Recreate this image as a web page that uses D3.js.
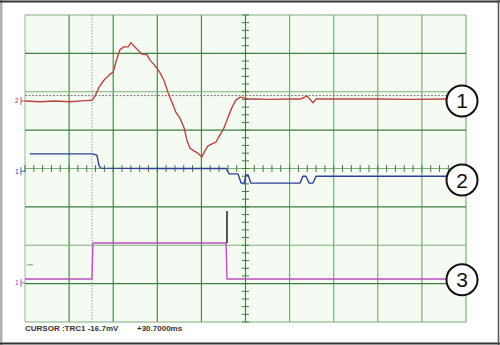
<!DOCTYPE html>
<html>
<head>
<meta charset="utf-8">
<script src="https://cdn.jsdelivr.net/npm/d3@7"></script>
<style>
  body { margin: 0; background: #fff; }
  svg { display: block; }
</style>
</head>
<body>
<svg></svg>
<script>
var WIDTH = 500;
var HEIGHT = 345;

// time in ms (10 ms/div), level in divisions
var ch1Time = [0, 3.4, 6.8, 10.2, 13.6, 15.2, 15.9, 16.8, 17.9, 19.3, 20.0, 20.6, 21.5, 22.4, 23.4, 24.0,
    24.7, 25.6, 26.5, 27.7, 28.3, 29.3, 29.9, 30.6, 31.5, 32.4, 33.3, 34.2, 35.1, 36.1, 36.7, 37.4,
    38.3, 39.2, 40.1, 40.8, 41.5, 42.4, 43.3, 44.2, 45.1, 46.0, 46.9, 47.8, 48.8, 49.7, 50.6, 52.2,
    55.6, 60.1, 62.4, 63.3, 63.9, 64.6, 65.3, 66.0, 68.0, 73.7, 80.5, 87.3, 95.5];
var ch1Level = [1.76, 1.74, 1.76, 1.74, 1.77, 1.78, 1.89, 2.12, 2.30, 2.46, 2.51, 2.77, 3.09, 3.17, 3.17, 3.28,
    3.19, 3.09, 2.98, 2.96, 2.83, 2.70, 2.62, 2.50, 2.30, 1.99, 1.73, 1.47, 1.32, 1.05, 0.74, 0.53,
    0.46, 0.40, 0.30, 0.46, 0.59, 0.64, 0.69, 0.87, 1.05, 1.32, 1.58, 1.78, 1.86, 1.84, 1.81, 1.81,
    1.80, 1.81, 1.81, 1.85, 1.89, 1.81, 1.71, 1.81, 1.81, 1.81, 1.81, 1.80, 1.81];

var ch2Time = [1.1, 15.2, 16.3, 16.8, 17.2, 28.3, 39.7, 45.6, 46.3, 48.3, 49.0, 49.7, 50.1, 50.6, 51.2,
    55.6, 62.4, 63.0, 63.7, 64.4, 65.3, 66.0, 69.2, 95.5];
var ch2Level = [0.38, 0.38, 0.35, 0.07, 0.01, 0, 0, 0, -0.14, -0.14, -0.38, -0.38, -0.17, -0.17, -0.38,
    -0.38, -0.38, -0.20, -0.20, -0.38, -0.38, -0.20, -0.20, -0.20];

var ch3Time = [0, 15.2, 15.4, 45.6, 45.8, 95.5];
var ch3Level = [-2.88, -2.88, -1.94, -1.94, -2.88, -2.88];

var spikeTime = 45.8;
var spikeLevels = [-1.11, -1.94];

var cursorTime = 15.2;
var cursorLevel = 1.90;

var channelTags = [
    {label: "2", level: 1.76, color: "#b03030"},
    {label: "1", level: -0.07, color: "#2a3a9a"},
    {label: "1", level: -2.98, color: "#b03ab0"}
];
var markerLabels = ["1", "2", "3"];
var markerLevels = [1.76, -0.30, -2.90];
var readout = ["CURSOR :TRC1 -16.7mV", "+30.7000ms"];

var svg = d3.select("svg").attr("width", WIDTH).attr("height", HEIGHT);

var x = d3.scaleLinear().domain([0, 100]).range([25, 466]);
var y = d3.scaleLinear().domain([-4, 4]).range([322, 15]);

// frame
svg.append("rect").attr("x", 0).attr("y", 0).attr("width", WIDTH).attr("height", HEIGHT).attr("fill", "#fff");
svg.append("rect").attr("x", 0).attr("y", 0).attr("width", 2.5).attr("height", HEIGHT).attr("fill", "#b0b0b0");
svg.append("line").attr("x1", 0).attr("x2", WIDTH).attr("y1", 1.5).attr("y2", 1.5).attr("stroke", "#333").attr("stroke-width", 2);
svg.append("line").attr("x1", 0).attr("x2", WIDTH).attr("y1", 343.5).attr("y2", 343.5).attr("stroke", "#333").attr("stroke-width", 2);
svg.append("line").attr("x1", 498.5).attr("x2", 498.5).attr("y1", 0).attr("y2", HEIGHT).attr("stroke", "#555").attr("stroke-width", 1.5);

// screen
svg.append("rect").attr("x", x(0)).attr("y", y(4)).attr("width", x(100) - x(0)).attr("height", y(-4) - y(4))
    .attr("fill", "#f5fbf3");

var grid = svg.append("g");
grid.selectAll(".vg").data(d3.range(0, 101, 10)).enter().append("line")
    .attr("x1", function(d) { return x(d); }).attr("x2", function(d) { return x(d); })
    .attr("y1", y(4)).attr("y2", y(-4))
    .attr("stroke", function(d) { return d == 0 ? "#9cbf9c" : (d <= 50 ? "#3d7f3d" : "#6fa86f"); })
    .attr("stroke-width", 1.1);
grid.selectAll(".hg").data(d3.range(-4, 5, 1)).enter().append("line")
    .attr("x1", x(0)).attr("x2", x(100))
    .attr("y1", function(d) { return y(d); }).attr("y2", function(d) { return y(d); })
    .attr("stroke", function(d) { return Math.abs(d) % 2 == 1 ? "#3d7f3d" : "#7cb07c"; })
    .attr("stroke-width", 1.1);

// centre axis minor ticks
grid.selectAll(".ht").data(d3.range(0, 101, 2)).enter().append("line")
    .attr("x1", function(d) { return x(d); }).attr("x2", function(d) { return x(d); })
    .attr("y1", y(0) - 3.5).attr("y2", y(0) + 3.5)
    .attr("stroke", "#3d7f3d").attr("stroke-width", 1);
grid.selectAll(".vt").data(d3.range(-4, 4.01, 0.2)).enter().append("line")
    .attr("x1", x(50) - 3.5).attr("x2", x(50) + 3.5)
    .attr("y1", function(d) { return y(d); }).attr("y2", function(d) { return y(d); })
    .attr("stroke", "#3d7f3d").attr("stroke-width", 1);

// cursors
svg.append("line").attr("x1", x(cursorTime)).attr("x2", x(cursorTime)).attr("y1", y(4)).attr("y2", y(-4))
    .attr("stroke", "#9a9a9a").attr("stroke-width", 1).attr("stroke-dasharray", "1.5,1.5");
svg.append("line").attr("x1", x(0)).attr("x2", x(100)).attr("y1", y(cursorLevel)).attr("y2", y(cursorLevel))
    .attr("stroke", "#777").attr("stroke-width", 1).attr("stroke-dasharray", "2,1.5");

// traces
var line = d3.line()
    .x(function(d) { return x(d[0]); })
    .y(function(d) { return y(d[1]); });

function trace(times, levels, color) {
    svg.append("path")
        .datum(d3.zip(times, levels))
        .attr("d", line)
        .attr("fill", "none")
        .attr("stroke", color)
        .attr("stroke-width", 1.4)
        .attr("stroke-linejoin", "round");
}
trace(ch1Time, ch1Level, "#b9453f");
trace(ch2Time, ch2Level, "#2e3f9c");
trace(ch3Time, ch3Level, "#bb4fbf");

svg.append("line").attr("x1", x(spikeTime)).attr("x2", x(spikeTime))
    .attr("y1", y(spikeLevels[0])).attr("y2", y(spikeLevels[1]))
    .attr("stroke", "#222").attr("stroke-width", 1.5);
svg.append("line").attr("x1", x(0.5)).attr("x2", x(1.8)).attr("y1", y(-2.51)).attr("y2", y(-2.51))
    .attr("stroke", "#888").attr("stroke-width", 1);

// channel ground tags
var tags = svg.selectAll(".tag").data(channelTags).enter().append("g")
    .attr("transform", function(d) { return "translate(0," + y(d.level) + ")"; });
tags.append("text").attr("x", 15).attr("y", 2.5).attr("font-size", 6.5).attr("font-family", "Liberation Sans, Arial")
    .attr("fill", function(d) { return d.color; }).text(function(d) { return d.label; });
tags.append("line").attr("x1", 21).attr("x2", 21).attr("y1", -4).attr("y2", 4)
    .attr("stroke", function(d) { return d.color; }).attr("stroke-width", 0.8);
tags.append("line").attr("x1", 21).attr("x2", 25).attr("y1", 0).attr("y2", 0)
    .attr("stroke", function(d) { return d.color; }).attr("stroke-width", 0.8);

// numbered markers
var marks = svg.selectAll(".mark").data(markerLabels).enter().append("g")
    .attr("transform", function(d, i) { return "translate(462," + y(markerLevels[i]) + ")"; });
marks.append("circle").attr("r", 15.5).attr("fill", "#fff").attr("stroke", "#111").attr("stroke-width", 2);
marks.append("text").attr("text-anchor", "middle").attr("y", 7.5)
    .attr("font-family", "Liberation Sans, Arial").attr("font-size", 21).attr("fill", "#111")
    .text(function(d) { return d; });

// readout
svg.append("text").attr("x", 25).attr("y", 331).attr("font-family", "Liberation Sans, Arial")
    .attr("font-size", 8).attr("font-weight", "bold").attr("fill", "#333").text(readout[0]);
svg.append("text").attr("x", 137).attr("y", 331).attr("font-family", "Liberation Sans, Arial")
    .attr("font-size", 8).attr("font-weight", "bold").attr("fill", "#333").text(readout[1]);
</script>
</body>
</html>
